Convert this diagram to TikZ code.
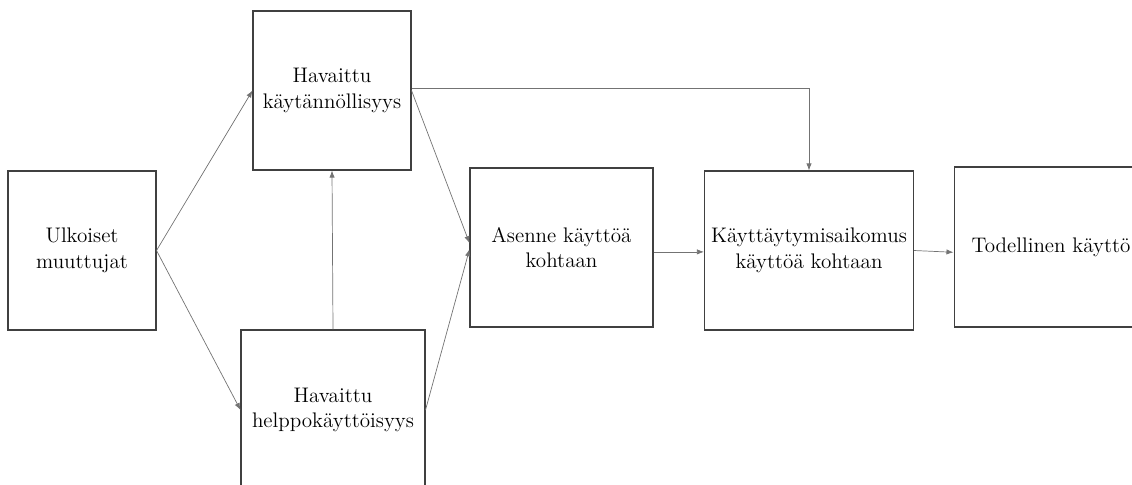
\documentclass[tikz,border=0pt]{standalone}
\usepackage{fontspec}
\usetikzlibrary{arrows.meta}

\begin{document}
\begin{tikzpicture}[x=0.02cm, y=-0.02cm, font=\fontsize{12}{14.5}\selectfont,
    box/.style={draw=black!75, line width=0.6pt, align=center, inner sep=2pt, minimum height=3.18cm},
    arr/.style={draw=black!55, line width=0.4pt, -{Latex[length=4pt,width=3pt]}}
    ]

    \useasboundingbox (0,0) rectangle (1132,484);

    \node[box, minimum width=2.96cm] (ulk) at (82,250.5) {Ulkoiset\\muuttujat};
    \node[box, minimum width=3.16cm] (pu) at (332,90.5) {Havaittu\\käytännöllisyys};
    \node[box, minimum width=3.68cm, minimum height=3.2cm] (peou) at (333,410) {Havaittu\\helppokäyttöisyys};
    \node[box, minimum width=3.66cm] (asenne) at (561.5,247.5) {Asenne käyttöä\\kohtaan};
    \node[box, minimum width=4.18cm] (aikomus) at (809,250.5) {Käyttäytymisaikomus\\käyttöä kohtaan};
    \node[box, minimum width=3.88cm, minimum height=3.2cm] (kaytto) at (1051,247) {Todellinen käyttö};

    \draw[arr] (ulk.east) -- (pu.west);
    \draw[arr] (ulk.east) -- (peou.west);
    \draw[arr] (peou.north) -- (pu.south);
    \draw[arr] (pu.east) -- ([yshift=2.5pt]asenne.west);
    \draw[arr] (peou.east) -- ([yshift=-1pt]asenne.west);
    %
    \draw[arr] ([yshift=1pt]pu.east) -| (aikomus.north);
    \draw[arr] ([yshift=-2.5pt]asenne.east) -- ([yshift=-2.5pt]asenne.east -| aikomus.west);
    \draw[arr] (aikomus.east) -- ([yshift=-3pt]kaytto.west);
\end{tikzpicture}
\end{document}
